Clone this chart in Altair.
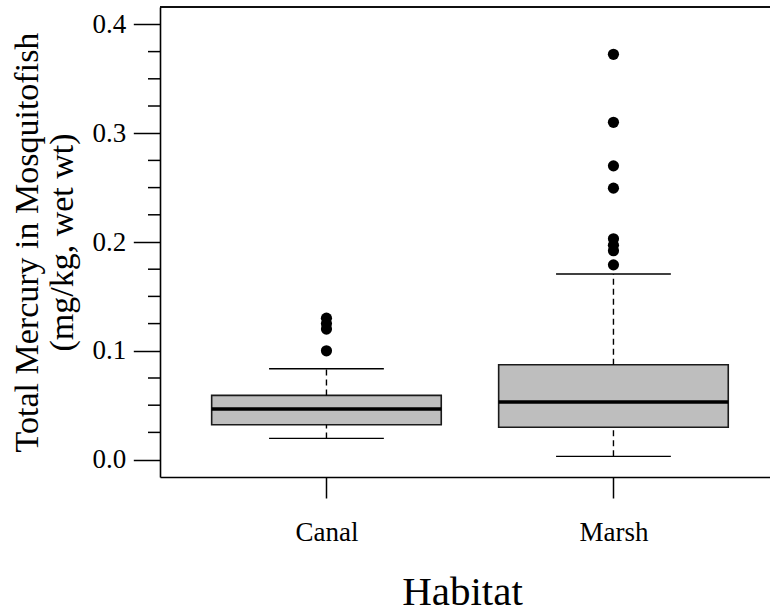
import altair as alt
import pandas as pd

# Summary statistics of total mercury (mg/kg, wet wt) per habitat
habitats = ["Canal", "Marsh"]
lower_whisker = [0.0195, 0.003]
first_quartile = [0.032, 0.0297]
medians = [0.0465, 0.053]
third_quartile = [0.059, 0.0872]
upper_whisker = [0.0835, 0.1706]

# Observations beyond the whiskers
canal_outliers = [0.100, 0.120, 0.125, 0.130]
marsh_outliers = [0.179, 0.192, 0.197, 0.203, 0.2495, 0.270, 0.310, 0.3725]

# Axis ticks
major_ticks = [0.0, 0.1, 0.2, 0.3, 0.4]
minor_ticks = [0.025, 0.05, 0.075, 0.125, 0.15, 0.175,
               0.225, 0.25, 0.275, 0.325, 0.35, 0.375]

BOX_HALF = 0.4    # boxwex 0.8
CAP_HALF = 0.2    # staple width half of the box
SERIF = "Liberation Serif"
W, H = 610, 470

stats = pd.DataFrame({
    "habitat": habitats,
    "pos": list(range(1, len(habitats) + 1)),
    "lo": lower_whisker,
    "q1": first_quartile,
    "med": medians,
    "q3": third_quartile,
    "hi": upper_whisker,
})
outliers = pd.DataFrame({
    "pos": [1] * len(canal_outliers) + [2] * len(marsh_outliers),
    "value": canal_outliers + marsh_outliers,
})
minor = pd.DataFrame({"tick": minor_ticks})

label_expr = " : ".join(
    f"datum.value == {i + 1} ? '{h}'" for i, h in enumerate(habitats[:-1])
) + f" : '{habitats[-1]}'"

x_scale = alt.Scale(domain=[0.42, 0.42 + W / 287.0], nice=False, zero=False)
y_scale = alt.Scale(domain=[-0.016, 0.416], nice=False, zero=False)

x_axis = alt.Axis(
    values=list(range(1, len(habitats) + 1)), labelExpr=label_expr,
    grid=False, tickSize=21, tickWidth=1.5, tickColor="black",
    domainColor="black", domainWidth=1.6,
    labelFont=SERIF, labelFontSize=27, labelColor="black",
    labelBaseline="alphabetic", labelPadding=42,
    title="Habitat", titleFont=SERIF, titleFontSize=41,
    titleFontWeight="normal", titleColor="black",
    titleBaseline="alphabetic", titleAlign="center",
    titleX=302, titleY=127,
)
y_axis = alt.Axis(
    values=major_ticks, format=".1f", grid=False,
    tickSize=26.7, tickWidth=1.5, tickColor="black",
    domainColor="black", domainWidth=1.6,
    labelFont=SERIF, labelFontSize=27, labelColor="black", labelPadding=7.5,
    title=["Total Mercury in Mosquitofish", "(mg/kg, wet wt)"],
    titleFont=SERIF, titleFontSize=34, titleFontWeight="normal",
    titleColor="black", titleLineHeight=35, titleAngle=270,
    titleAlign="center", titleBaseline="alphabetic",
    titleX=-123, titleY=H / 2,
)

base = alt.Chart(stats).transform_calculate(
    box_l=f"datum.pos - {BOX_HALF}", box_r=f"datum.pos + {BOX_HALF}",
    cap_l=f"datum.pos - {CAP_HALF}", cap_r=f"datum.pos + {CAP_HALF}",
)

boxes = base.mark_rect(fill="#BEBEBE", stroke="#1a1a1a", strokeWidth=1.6).encode(
    x=alt.X("box_l:Q", scale=x_scale, axis=x_axis),
    x2="box_r:Q",
    y=alt.Y("q1:Q", scale=y_scale, axis=y_axis),
    y2="q3:Q",
)
median_lines = base.mark_rule(color="black", strokeWidth=3.6).encode(
    x=alt.X("box_l:Q", scale=x_scale, axis=x_axis), x2="box_r:Q",
    y=alt.Y("med:Q", scale=y_scale, axis=y_axis),
)
upper_whiskers = base.mark_rule(color="black", strokeWidth=1.4, strokeDash=[6, 4]).encode(
    x=alt.X("pos:Q", scale=x_scale, axis=x_axis),
    y=alt.Y("q3:Q", scale=y_scale, axis=y_axis), y2="hi:Q",
)
lower_whiskers = base.mark_rule(color="black", strokeWidth=1.4, strokeDash=[6, 4]).encode(
    x=alt.X("pos:Q", scale=x_scale, axis=x_axis),
    y=alt.Y("lo:Q", scale=y_scale, axis=y_axis), y2="q1:Q",
)
upper_caps = base.mark_rule(color="black", strokeWidth=1.4).encode(
    x=alt.X("cap_l:Q", scale=x_scale, axis=x_axis), x2="cap_r:Q",
    y=alt.Y("hi:Q", scale=y_scale, axis=y_axis),
)
lower_caps = base.mark_rule(color="black", strokeWidth=1.4).encode(
    x=alt.X("cap_l:Q", scale=x_scale, axis=x_axis), x2="cap_r:Q",
    y=alt.Y("lo:Q", scale=y_scale, axis=y_axis),
)
points = alt.Chart(outliers).mark_circle(size=125, color="black", opacity=1).encode(
    x=alt.X("pos:Q", scale=x_scale, axis=x_axis),
    y=alt.Y("value:Q", scale=y_scale, axis=y_axis),
)
minor_marks = alt.Chart(minor).mark_rule(color="black", strokeWidth=1.5).encode(
    y=alt.Y("tick:Q", scale=y_scale, axis=y_axis),
    x=alt.value(-12), x2=alt.value(0),
)
top_border = alt.Chart(stats).mark_rule(color="black", strokeWidth=1.6).encode(
    x=alt.value(0), x2=alt.value(W), y=alt.value(0),
)

chart = alt.layer(
    boxes, median_lines, upper_whiskers, lower_whiskers,
    upper_caps, lower_caps, points, minor_marks, top_border,
).properties(
    width=W, height=H,
    autosize=alt.AutoSizeParams(type="none"),
    padding={"left": 160, "top": 7, "right": 0, "bottom": 132},
    background="white",
).configure_view(stroke=None)

chart.save("out.html", embed_options={"renderer": "svg", "actions": False})
